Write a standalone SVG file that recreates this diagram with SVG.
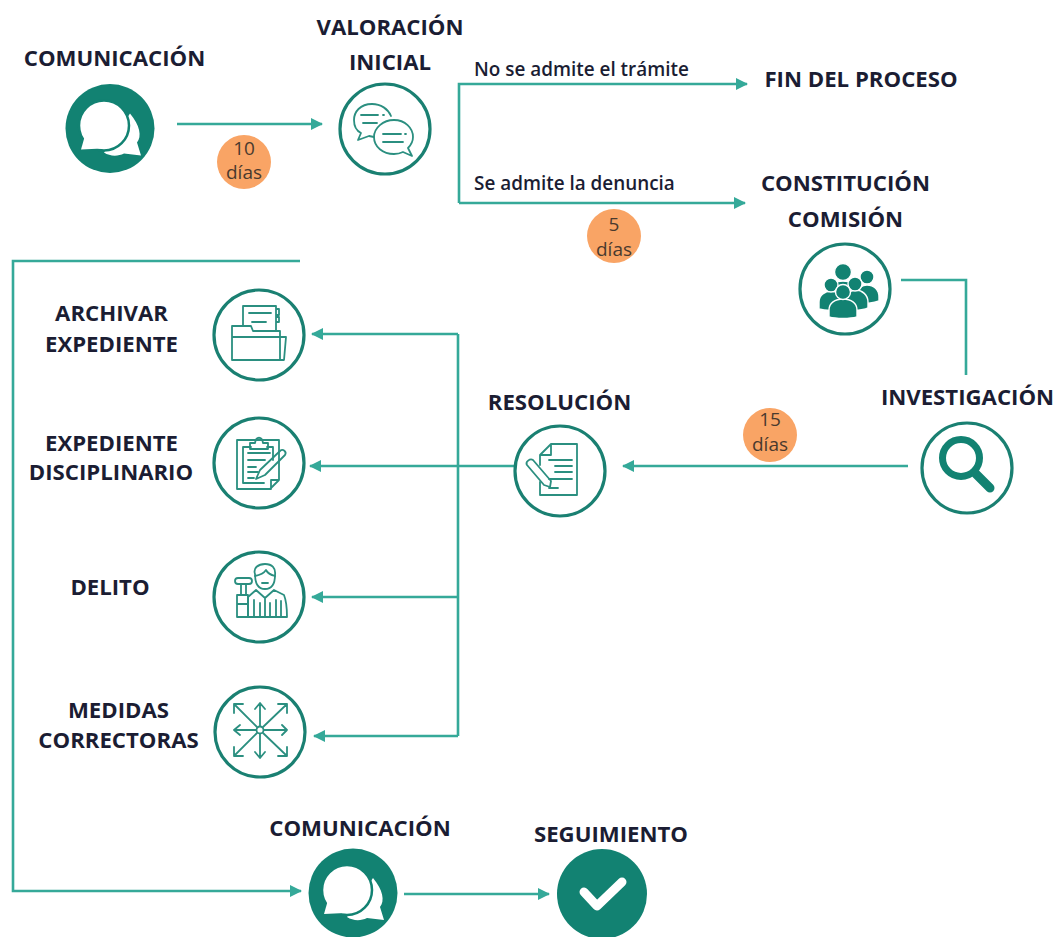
<svg xmlns="http://www.w3.org/2000/svg" width="1060" height="937" viewBox="0 0 1060 937">
<style>
text{font-family:"Open Sans","Liberation Sans",sans-serif;fill:#1b1d33}
.t{font-size:22.2px;font-weight:700;text-anchor:middle}
.l{font-size:18.9px;font-weight:600}
.d{font-size:19px;fill:#4a3a2e;text-anchor:middle}
.c{stroke:#35a999;stroke-width:2.6;fill:none}
.ring{fill:#fff;stroke:#1a8072;stroke-width:3.2}
.solid{fill:#128272}
.i{fill:none;stroke:#2b8f80;stroke-width:1.8;stroke-linejoin:round;stroke-linecap:round}
.f{fill:#128272;stroke:#fff;stroke-width:1.4}
.b{fill:#f9a465}
</style>
<defs>
<marker id="a" markerWidth="14" markerHeight="14" refX="11" refY="6" orient="auto-start-reverse" markerUnits="userSpaceOnUse"><path d="M0 0L12 6L0 12Z" fill="#35a999"/></marker>
<g id="chat"><circle class="solid" r="44.500"/><path d="M20-15C30-3 32 8 27 14L31 27L14 25C8 28 0 28-6 24Z" fill="#fff"/><circle cx="-6" cy="-3" r="25" fill="#fff" stroke="#128272" stroke-width="2.500"/><path d="M-25 7L-29 21L-8 20Z" fill="#fff"/></g>
</defs>

<g id="connectors">
<path class="c" d="M177 124H322" marker-end="url(#a)"/>
<path class="c" d="M459 203V84H747" marker-end="url(#a)"/>
<path class="c" d="M459 203H745" marker-end="url(#a)"/>
<path class="c" d="M901 280H966V375"/>
<path class="c" d="M908 466H623" marker-end="url(#a)"/>
<path class="c" d="M514 466H310" marker-end="url(#a)"/>
<path class="c" d="M458 334V736"/>
<path class="c" d="M458 334H312" marker-end="url(#a)"/>
<path class="c" d="M458 597H312" marker-end="url(#a)"/>
<path class="c" d="M458 736H314" marker-end="url(#a)"/>
<path class="c" d="M300 261H13V891H301" marker-end="url(#a)"/>
<path class="c" d="M404 894H549" marker-end="url(#a)"/>
</g>

<g id="comunicacion1"><use href="#chat" x="110" y="128.500"/><text class="t" x="114.500" y="66">COMUNICACIÓN</text></g>
<g id="valoracion"><circle class="ring" cx="385" cy="129" r="45"/>
<g class="i"><path d="M372 104C360 104 354 112 354 120C354 126 357 131 361 133L358 140L369 136L374 137"/><path d="M372 104C381 104 388 109 391 116"/><path d="M361 115H378M383 115H384M363 123H377"/><path d="M394 120C383 120 374 128 374 137C374 147 383 154 394 154C398 154 401 153 403 152L412 156L408 148C411 145 413 141 413 137C413 128 405 120 394 120Z"/><path d="M383 134H401M405 134H406M383 142H403"/></g>
<text class="t" x="390" y="35">VALORACIÓN</text><text class="t" x="390" y="70">INICIAL</text></g>

<g id="fin"><text class="t" x="861" y="87">FIN DEL PROCESO</text></g>

<g id="constitucion"><circle class="ring" cx="845" cy="289" r="45"/>
<g class="f"><path d="M858 303V292C858 288 862 285 867 285C874 285 879 290 879 297V301C874 303 864 304 858 303Z"/><circle cx="867" cy="277" r="7"/>
<path d="M830 302V290C830 284 836 281 843 281C850 281 856 284 856 290V302Z"/><circle cx="843" cy="272" r="8.500"/>
<path d="M819 309V302C819 295 825 291 831 291C837 291 842 295 842 302V309C836 311 825 311 819 309Z"/><circle cx="831" cy="285" r="7"/>
<path d="M845 309V302C845 295 850 290 856 290C862 290 868 295 868 302V308C862 311 851 311 845 309Z"/><circle cx="855" cy="284" r="7"/>
<path d="M829 317V310C829 303 835 299 843 299C851 299 857 303 857 310V317C850 319 836 319 829 317Z"/><circle cx="843" cy="292" r="7.500"/></g>
<text class="t" x="845.500" y="191">CONSTITUCIÓN</text><text class="t" x="845.500" y="227">COMISIÓN</text></g>

<g id="investigacion"><circle class="ring" cx="967" cy="468" r="45"/>
<circle cx="961" cy="458" r="18.500" fill="none" stroke="#128272" stroke-width="7"/><path d="M976 474L990 488" stroke="#128272" stroke-width="9" stroke-linecap="round"/>
<text class="t" x="967.500" y="405">INVESTIGACIÓN</text></g>

<g id="resolucion"><circle class="ring" cx="560" cy="471" r="45"/>
<g class="i" stroke-width="2.400"><path d="M551 444H577V495H540V482M540 465V455L551 444V455H540"/><path d="M549 460H572M555 466H572M555 472H572M549 479H572M549 488H558"/><path d="M527 465C525 462 530 458 533 460L551 481L550 487L544 485Z"/></g>
<text class="t" x="559.500" y="410">RESOLUCIÓN</text></g>

<g id="archivar"><circle class="ring" cx="259" cy="335" r="45"/>
<g class="i" stroke-width="1.600"><path d="M243 325V306H276V330M249 313H271M252 322H266M276 309H279V315H276M276 317H279V322H276"/><path d="M232 326H251L253 331H280V360H232ZM232 337H280M236 337H244M246 337H247M280 337H286L284 360H280"/></g>
<text class="t" x="111.500" y="321">ARCHIVAR</text><text class="t" x="111.500" y="352">EXPEDIENTE</text></g>

<g id="disciplinario"><circle class="ring" cx="259" cy="463" r="45"/>
<g class="i" stroke-width="1.600"><path d="M237 440H279V480M237 440V489H270L279 480H271V489"/><path d="M243 447H251M267 447H273V460M243 447V483H264"/><path d="M250 449V443H255C256 436 262 436 263 443H268V449Z"/><path d="M248 453H270M248 460H265M248 467H256M248 472H258M248 478H254"/><path d="M256 479L260 470L280 451C283 448 287 452 285 455L265 475Z"/></g>
<text class="t" x="111.500" y="451">EXPEDIENTE</text><text class="t" x="111" y="480">DISCIPLINARIO</text></g>

<g id="delito"><circle class="ring" cx="259" cy="597" r="45"/>
<g class="i" stroke-width="1.500"><path d="M255 574C253 568 258 564 265 564C272 564 276 568 275 575C275 585 271 589 265 589C259 589 255 585 255 574Z"/><path d="M255 576C260 575 264 573 266 570C268 574 271 575 275 576M262 583H268M256 590L265 598L274 590L284 595C286 600 287 610 287 617H248V597ZM265 598V617M254 600V617M260 603V617M270 603V617M276 600V617M281 601V617"/><rect x="235" y="578" width="17" height="6" rx="3"/><path d="M241 584V595M246 584V595M237 595H248V617H237ZM237 604H248"/></g>
<text class="t" x="110" y="595">DELITO</text></g>

<g id="medidas"><circle class="ring" cx="260" cy="732" r="45"/>
<g class="i" stroke-width="2"><circle cx="260" cy="730" r="3.500"/><path d="M260 726V704M255 709L260 703L265 709M260 734V757M255 752L260 758L265 752M256 730H234M240 725L234 730L240 735M264 730H287M282 725L287 730L282 735M257 727L234 704M234 713V704H243M263 727L287 704M278 704H287V713M257 733L234 756M234 747V756H243M263 733L287 756M278 756H287V747"/></g>
<text class="t" x="118.500" y="718">MEDIDAS</text><text class="t" x="118.500" y="748">CORRECTORAS</text></g>

<g id="comunicacion2"><use href="#chat" x="353" y="893"/><text class="t" x="360" y="836">COMUNICACIÓN</text></g>

<g id="seguimiento"><circle class="solid" cx="602" cy="894" r="45"/><path d="M584 892L597 906L622 882" fill="none" stroke="#fff" stroke-width="9" stroke-linecap="round" stroke-linejoin="round"/><text class="t" x="611" y="842">SEGUIMIENTO</text></g>

<g id="label-no"><text class="l" x="474" y="76">No se admite el trámite</text></g>
<g id="label-si"><text class="l" x="474" y="190">Se admite la denuncia</text></g>

<g id="badge10"><circle class="b" cx="244" cy="162" r="27"/><text class="d" x="244" y="155">10</text><text class="d" x="244" y="179">días</text></g>
<g id="badge5"><circle class="b" cx="614" cy="236" r="27"/><text class="d" x="614" y="231">5</text><text class="d" x="614" y="256">días</text></g>
<g id="badge15"><circle class="b" cx="770" cy="435" r="27"/><text class="d" x="770" y="426">15</text><text class="d" x="770" y="451">días</text></g>
</svg>
